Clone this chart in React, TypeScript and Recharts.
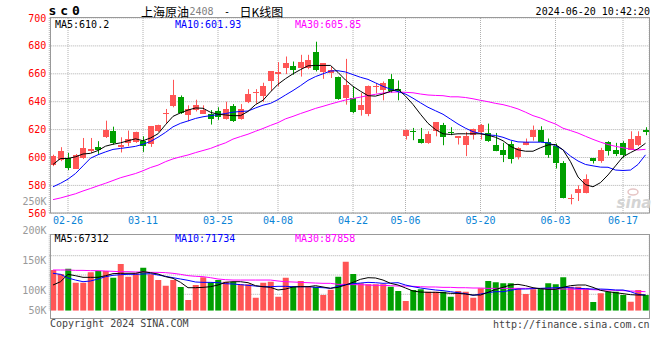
import React from "react";
import { ComposedChart, Bar, Line, XAxis, YAxis, CartesianGrid, Cell } from "recharts";

// trading days shown on the chart (MM-DD)
const dates = [
  "02-22", "02-23", "02-26", "02-27", "02-28", "02-29",
  "03-01", "03-04", "03-05", "03-06", "03-07", "03-08", "03-11", "03-12", "03-13", "03-14", "03-15",
  "03-18", "03-19", "03-20", "03-21", "03-22", "03-25", "03-26", "03-27", "03-28", "03-29",
  "04-01", "04-02", "04-03", "04-08", "04-09", "04-10", "04-11", "04-12", "04-15", "04-16", "04-17",
  "04-18", "04-19", "04-22", "04-23", "04-24", "04-25", "04-26", "04-29", "04-30",
  "05-06", "05-07", "05-08", "05-09", "05-10", "05-13", "05-14", "05-15", "05-16", "05-17",
  "05-20", "05-21", "05-22", "05-23", "05-24", "05-27", "05-28", "05-29", "05-30", "05-31",
  "06-03", "06-04", "06-05", "06-06", "06-07", "06-11", "06-12", "06-13", "06-14",
  "06-17", "06-18", "06-19", "06-20",
];

const opens = [
  594.5, 597.9, 599.3, 592.1, 599.3, 604.5, 607.4, 614.5, 618.8, 607.6,
  610.5, 611.0, 611.7, 609.8, 618.8, 631.5, 636.7, 643.1, 630.2, 633.8,
  631.4, 631.4, 633.0, 627.6, 636.7, 627.9, 639.5, 646.2, 644.3, 654.5,
  659.8, 663.8, 665.7, 664.1, 664.1, 675.5, 661.2, 660.5, 658.0, 642.6,
  642.6, 633.8, 631.4, 650.2, 648.6, 656.2, 649.0, 615.7, 619.0, 613.6,
  610.5, 618.8, 623.6, 618.3, 613.8, 609.3, 616.0, 618.1, 617.6, 609.3,
  605.7, 609.8, 600.2, 608.8, 614.5, 620.0, 611.2, 608.3, 595.7, 570.5,
  574.3, 574.3, 599.3, 597.4, 611.0, 605.2, 610.5, 605.7, 608.8, 620.0,
];
const closes = [
  601.4, 604.5, 592.6, 602.1, 606.9, 606.4, 605.7, 619.5, 610.2, 609.3,
  613.3, 618.1, 608.6, 622.4, 623.1, 631.9, 645.0, 631.7, 634.8, 637.9,
  633.8, 627.6, 629.0, 634.8, 626.4, 635.0, 645.7, 646.9, 650.9, 661.7,
  661.0, 668.1, 662.4, 668.4, 670.0, 662.9, 667.6, 662.9, 641.9, 652.1,
  632.6, 637.9, 651.6, 650.9, 653.3, 647.9, 647.4, 620.0, 618.8, 610.7,
  617.1, 625.2, 614.5, 617.4, 615.2, 615.2, 620.7, 623.6, 612.1, 605.0,
  602.1, 598.6, 606.9, 611.2, 620.0, 611.2, 602.1, 596.2, 571.2, 570.7,
  577.6, 584.3, 597.4, 605.7, 604.5, 602.6, 602.1, 613.6, 615.2, 618.3,
];
const highs = [
  602.0, 607.4, 603.3, 602.5, 614.0, 614.0, 611.7, 626.4, 622.1, 614.5,
  619.3, 618.5, 615.2, 622.6, 623.5, 634.8, 655.7, 644.5, 637.4, 641.4,
  637.4, 634.0, 636.0, 640.0, 638.3, 638.3, 649.0, 649.0, 653.6, 661.7,
  668.4, 672.4, 668.8, 673.6, 673.6, 683.0, 667.6, 665.0, 658.0, 670.7,
  650.9, 646.2, 651.6, 653.3, 654.5, 659.8, 655.2, 620.0, 621.2, 621.2,
  618.8, 625.2, 624.8, 621.7, 615.2, 618.3, 620.7, 624.0, 624.3, 617.6,
  610.5, 611.7, 607.4, 613.6, 622.9, 622.4, 613.6, 610.0, 597.4, 573.6,
  580.0, 587.9, 599.3, 606.9, 611.7, 610.5, 611.7, 618.8, 618.8, 621.7,
];
const lows = [
  593.8, 597.4, 591.0, 592.0, 599.0, 603.3, 602.6, 614.0, 609.3, 603.6,
  608.1, 610.5, 604.0, 607.6, 618.3, 624.8, 636.0, 631.2, 626.0, 633.0,
  631.4, 623.6, 627.0, 627.1, 625.5, 627.1, 639.0, 638.6, 639.8, 647.6,
  650.9, 659.8, 659.3, 658.0, 663.3, 661.7, 656.4, 657.0, 641.4, 637.9,
  631.7, 630.0, 629.6, 646.0, 641.0, 646.4, 641.0, 612.9, 612.4, 610.0,
  609.8, 615.2, 608.8, 616.0, 609.3, 601.0, 612.9, 612.9, 611.2, 604.5,
  596.7, 595.7, 598.6, 608.8, 612.1, 611.0, 599.8, 592.1, 570.7, 566.4,
  568.8, 574.3, 595.7, 596.2, 601.4, 601.0, 599.8, 605.7, 608.1, 616.0,
];

const ma5 = [
  595, 599.3, 599.3, 600.5, 602.5, 603, 605, 608.1, 609.5, 610.5,
  612, 613.4, 612, 614, 617, 623.5, 629.5, 632, 634, 635.5,
  635.3, 632.4, 631, 630.5, 630, 630, 633, 637.9, 641, 647,
  652.5, 656.5, 660, 663, 665.7, 666, 666, 666, 661, 655.5,
  651, 647.5, 644.3, 644, 645.5, 647.5, 649, 644, 638, 631,
  624.5, 620, 617, 616.5, 617, 617, 617, 617, 616, 614.5,
  612, 608, 605.5, 604.5, 604.5, 607, 609, 609.3, 605.5, 597,
  586, 580.5, 579, 582, 587.5, 594, 600.5, 603.5, 606.2, 610.2,
];
const ma10 = [
  579, 581.5, 584.5, 588.5, 594, 599.5, 602, 604, 605.8, 606.5,
  607.2, 608, 609.5, 611.5, 614.5, 618, 622, 624.5, 626.2, 628,
  629.2, 630, 630.7, 631.5, 632.5, 633, 633.3, 635.5, 637.5, 638.8,
  641.5, 644.8, 648, 651.5, 655.3, 658, 660, 662, 662.2, 661.3,
  659.4, 657.5, 656, 653.5, 651, 649, 647.2, 645.5, 642.5, 639.2,
  636, 633.5, 631, 627.5, 624, 621, 618.5, 617.2, 616.2, 615.8,
  614.5, 612.5, 611.2, 611, 611, 611, 610.5, 608.5, 605.5, 601,
  597.5, 595, 594, 593.1, 593, 591, 590.7, 591, 595, 601.9,
];
const ma30 = [
  569.8, 571, 572.5, 574, 576, 577.8, 579.7, 581.5, 583.5, 585.5,
  587, 588.5, 590.5, 592.8, 594.5, 597, 599, 600.5, 601.8, 603.5,
  605, 606.5, 608.6, 610.5, 613.2, 615, 616.7, 618.8, 620.8, 623,
  625, 627.7, 629.5, 631.5, 633.3, 635.2, 636.7, 638.3, 639.8, 641.2,
  642.3, 643.3, 644.4, 645.3, 646.2, 646.8, 647, 646.7, 646.4, 645.5,
  644.8, 644.5, 644.3, 643.5, 643.5, 643, 642.1, 641, 640, 638.8,
  637.9, 636.5, 634.8, 632.5, 630, 628.3, 626, 624, 621, 619.3,
  617.5, 615.2, 613, 611, 609.3, 608, 607, 606, 605.4, 605.85,
];

// volume, thousands of lots
const volumes = [
  134.5, 127.8, 136.7, 113.4, 113.4, 130.6, 132.8, 132.8, 121.7, 144.5,
  123.4, 128.9, 138.4, 127.3, 117.8, 108.4, 117.8, 106.2, 84.5, 109.5,
  122.3, 113.9, 117.8, 115, 115, 110.6, 110.6, 88.4, 113.4, 115,
  90, 121.7, 106.7, 116.2, 106.7, 106.7, 92.8, 101.7, 123.4, 148.4,
  127.8, 112.3, 110.6, 110.6, 110.6, 106.7, 99.5, 82.8, 101.2, 102.3,
  98.4, 98.4, 98.4, 90, 99.5, 98.4, 88.4, 104, 116.2, 113.9,
  112.3, 112.3, 104, 94.5, 102.3, 104, 112.3, 110.6, 122.3, 106.7,
  106.7, 104, 81.2, 95.6, 98.4, 98.4, 92.8, 81.7, 101.2, 92.8,
];
const volMa5 = [
  109.5, 115, 127.3, 125, 122.3, 122.3, 122.3, 125, 128.4, 129,
  129, 129, 131.7, 130, 127.8, 123.4, 120.6, 114, 105, 105,
  105.6, 106.7, 109.5, 114, 115, 115, 113.4, 108.4, 106.7, 105.6,
  101.2, 102.8, 106.2, 106.7, 106.7, 108.4, 106.2, 104, 105.6, 109.5,
  114, 119, 121.7, 121.2, 117.8, 112.3, 109.5, 104.5, 99.5, 97.8,
  97.3, 97.3, 96.7, 95.6, 95.6, 94.5, 92.8, 92.8, 97.3, 102.3,
  105.6, 109.5, 110.6, 108.4, 105, 103.4, 102.3, 102.3, 105.6, 108.4,
  109.5, 109.5, 105.6, 100.6, 98.4, 96.7, 95.1, 93.4, 92.8, 92.8,
];
const volMa10 = [
  129, 127.3, 121.2, 117.8, 115, 116.2, 119.5, 123.4, 125.6, 126.7,
  127.3, 127.3, 127.8, 128.4, 126.2, 124, 121.7, 119.5, 117.3, 114.5,
  113.9, 113.9, 113.4, 111.7, 111.2, 110.1, 109, 107.8, 106.7, 106.7,
  107.3, 107.3, 106.7, 106.7, 106.7, 105.6, 105, 104, 107.3, 110.1,
  111.7, 112.8, 113.9, 113.4, 112.3, 112.8, 113.4, 109.5, 106.7, 104.5,
  102.8, 101.2, 100.1, 98.4, 96.7, 95.1, 92.3, 94.5, 96.7, 98.4,
  98.4, 100.6, 102.8, 102.8, 103.4, 104, 104.5, 105, 105.6, 105,
  104, 103.4, 102.8, 102.8, 102.3, 101.2, 101.2, 98.4, 94, 92.8,
];
const volMa30 = [
  134.5, 134.5, 134.5, 133.9, 133.9, 133.4, 133.4, 132.8, 132.3, 131.7,
  131.7, 131.2, 131.2, 130.6, 130.6, 130.1, 129, 127.3, 125.1, 124,
  123.4, 121.7, 119.5, 118.4, 117.8, 117.8, 117.8, 117.8, 117.8, 117.8,
  116.2, 115, 114.5, 113.9, 113.4, 112.8, 112.3, 112.3, 110.6, 110.6,
  110.1, 110.1, 109.5, 109, 109, 108.4, 107.8, 107.8, 107.3, 106.7,
  106.2, 106.2, 105.6, 105.6, 105, 105, 104.5, 104.5, 103.9, 103.9,
  103.9, 103.9, 103.9, 103.9, 103.9, 103.4, 103.4, 102.8, 102.8, 102.8,
  102.3, 102.3, 101.7, 101.2, 101.2, 100.6, 100.1, 99.5, 98.9, 98.4,
];

const dateTicks = ["02-26", "03-11", "03-25", "04-08", "04-22", "05-06", "05-20", "06-03", "06-17"];
const priceTicks = [560, 580, 600, 620, 640, 660, 680, 700];
const volTicks = [100, 150];

const RED = "#ff5555";
const GREEN = "#009f00";
const GRID = "#b0b0b0";
const FRAME = "#999999";
const DATE_BLUE = "#0b84d6";
const MONO = "'DejaVu Sans Mono', monospace";
const CJK = "'Noto Sans CJK SC', sans-serif";

const rows = dates.map((date, i) => ({
  date,
  open: opens[i],
  high: highs[i],
  low: lows[i],
  close: closes[i],
  ma5: ma5[i],
  ma10: ma10[i],
  ma30: ma30[i],
  vol: volumes[i],
  vma5: volMa5[i],
  vma10: volMa10[i],
  vma30: volMa30[i],
}));

function Candle(props: any) {
  const { x, y, width, height, payload } = props;
  if (!payload) return null;
  const color = payload.close >= payload.open ? RED : GREEN;
  const span = payload.high - payload.low;
  const toY = (v: number) => (span > 0 ? y + ((payload.high - v) / span) * height : y);
  const top = Math.round(toY(Math.max(payload.open, payload.close)));
  const bottom = Math.round(toY(Math.min(payload.open, payload.close)));
  const left = Math.round(x);
  const w = Math.round(width);
  const mid = left + Math.floor(w / 2) + 0.5;
  return (
    <g>
      <line x1={mid} x2={mid} y1={y} y2={y + height} stroke={color} strokeWidth={1} />
      <rect x={left} y={top} width={w} height={Math.max(1, bottom - top)} fill={color} />
    </g>
  );
}

const txt = { fontFamily: MONO, fontSize: 10, dominantBaseline: "central" as const };

export default function App() {
  return (
    <div style={{ position: "fixed", left: 0, top: 0, width: 660, height: 360, background: "#fff", overflow: "hidden" }}>
      <div style={{ position: "absolute", left: 0, top: 0 }}>
        <ComposedChart width={660} height={232} data={rows} margin={{ top: 18, right: 10.75, bottom: 0, left: 0 }}>
          <CartesianGrid stroke={GRID} strokeDasharray="1 1" />
          <XAxis
            dataKey="date"
            ticks={dateTicks}
            interval={0}
            height={18.7}
            tickSize={0}
            tickMargin={4}
            axisLine={false}
            tick={{ fill: DATE_BLUE, fontSize: 10, fontFamily: MONO }}
          />
          <YAxis
            type="number"
            domain={[560, 700]}
            ticks={priceTicks}
            allowDataOverflow
            width={49.25}
            tickSize={0}
            tickMargin={3}
            axisLine={false}
            tick={{ fill: "#ff0000", fontSize: 10, fontFamily: MONO }}
          />
          <Bar
            dataKey={(d: any) => [d.low, d.high]}
            barSize={6}
            shape={(p: any) => <Candle {...p} />}
            isAnimationActive={false}
          />
          <Line dataKey="ma30" stroke="#ff00ff" strokeWidth={1} dot={false} isAnimationActive={false} />
          <Line dataKey="ma10" stroke="#0000ff" strokeWidth={1} dot={false} isAnimationActive={false} />
          <Line dataKey="ma5" stroke="#000000" strokeWidth={1} dot={false} isAnimationActive={false} />
        </ComposedChart>
      </div>

      <div style={{ position: "absolute", left: 0, top: 226 }}>
        <ComposedChart width={660} height={94} data={rows} margin={{ top: 8.3, right: 10.75, bottom: 9.3, left: 0 }}>
          <CartesianGrid stroke={GRID} strokeDasharray="1 1" horizontalPoints={[29.7, 49, 68.3]} />
          <XAxis dataKey="date" ticks={dateTicks} interval={0} height={0} tick={false} axisLine={false} tickLine={false} />
          <YAxis
            type="number"
            domain={[66.7, 194]}
            ticks={volTicks}
            allowDataOverflow
            width={49.25}
            tickSize={0}
            tickMargin={3}
            axisLine={false}
            tickFormatter={(v: number) => `${v}K`}
            tick={{ fill: "#999999", fontSize: 10, fontFamily: MONO }}
          />
          <Bar dataKey="vol" barSize={6} isAnimationActive={false}>
            {rows.map((r, i) => (
              <Cell key={i} fill={r.close >= r.open ? RED : GREEN} />
            ))}
          </Bar>
          <Line dataKey="vma30" stroke="#ff00ff" strokeWidth={1} dot={false} isAnimationActive={false} />
          <Line dataKey="vma10" stroke="#0000ff" strokeWidth={1} dot={false} isAnimationActive={false} />
          <Line dataKey="vma5" stroke="#000000" strokeWidth={1} dot={false} isAnimationActive={false} />
        </ComposedChart>
      </div>

      <svg width={660} height={360} style={{ position: "absolute", left: 0, top: 0, pointerEvents: "none" }}>
        {/* panel frames */}
        <rect x={50.5} y={17.5} width={599} height={195.5} fill="none" stroke={FRAME} />
        <rect x={50.5} y={234.5} width={599} height={84} fill="none" stroke={FRAME} />

        {/* header */}
        <text x={48.5} y={10.5} {...txt} fontSize={13} fontWeight="bold" letterSpacing={3.9} fill="#000">sc0</text>
        <text x={141} y={11.5} fontFamily={CJK} fontSize={12} dominantBaseline="central" fill="#000">上海原油</text>
        <text x={189.5} y={11.5} {...txt} fill="#808080">2408</text>
        <text x={224} y={11.5} {...txt} fill="#000">-</text>
        <text x={239.5} y={11.5} fontFamily={CJK} fontSize={12} dominantBaseline="central" fill="#000">日K线图</text>
        <text x={650} y={11.5} {...txt} textAnchor="end" fill="#000">2024-06-20 10:42:20</text>

        {/* price legend */}
        <text x={55} y={24} {...txt} fill="#000">MA5:610.2</text>
        <text x={175} y={24} {...txt} fill="#0000ff">MA10:601.93</text>
        <text x={295} y={24} {...txt} fill="#ff00ff">MA30:605.85</text>

        {/* volume scale labels outside the plotted range */}
        <text x={46.5} y={201} {...txt} textAnchor="end" fill="#999">250K</text>
        <text x={46.5} y={230.7} {...txt} textAnchor="end" fill="#999">200K</text>
        <text x={46.5} y={310.7} {...txt} textAnchor="end" fill="#999">50K</text>

        {/* volume legend */}
        <text x={54.5} y={238.7} {...txt} fill="#000">MA5:67312</text>
        <text x={175} y={238.7} {...txt} fill="#0000ff">MA10:71734</text>
        <text x={295} y={238.7} {...txt} fill="#ff00ff">MA30:87858</text>

        {/* watermark */}
        <text x={634} y={203} fontFamily="'DejaVu Sans', sans-serif" fontSize={15} fontStyle="italic" fontWeight="bold" textAnchor="middle" dominantBaseline="central" fill="#d4d4d4">sina</text>
        <ellipse cx={633} cy={192} rx={5} ry={3} fill="none" stroke="#e6c6c6" strokeWidth={1.5} />

        {/* footer */}
        <text x={50} y={323.7} {...txt} fill="#444">Copyright 2024 SINA.COM</text>
        <text x={649.5} y={324.3} {...txt} textAnchor="end" fill="#444">http://finance.sina.com.cn</text>
      </svg>
    </div>
  );
}
